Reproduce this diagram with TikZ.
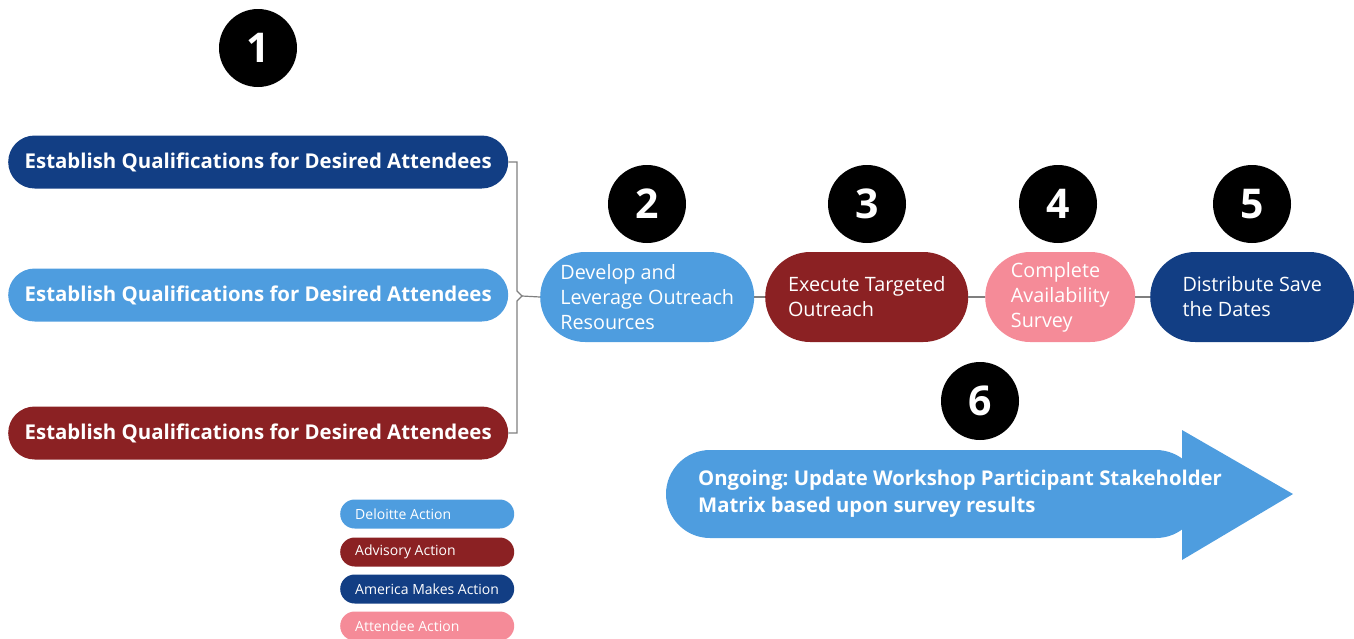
\documentclass[tikz,border=0pt]{standalone}
\usepackage{fontspec}
\setmainfont{Open Sans}
\frenchspacing
\definecolor{lblue}{HTML}{4E9DDF}
\definecolor{dblue}{HTML}{123E84}
\definecolor{dred}{HTML}{8B2123}
\definecolor{pink}{HTML}{F58B98}
\definecolor{linegray}{HTML}{7F7F7F}
\begin{document}
\begin{tikzpicture}[x=1pt,y=-1pt,
  pill/.style={rounded corners=26.5pt, minimum height=53pt, minimum width=500pt,
    inner xsep=0pt, anchor=west, text=white,
    font=\bfseries\fontsize{20.4}{24}\selectfont},
  stepbox/.style={rounded corners=45pt, minimum height=90pt, inner xsep=0pt,
    align=left, anchor=west, text=white, font=\fontsize{19.8}{25}\selectfont},
  numc/.style={circle, fill=black, minimum size=78pt, inner sep=0pt, text=white,
    font=\bfseries\fontsize{41}{41}\selectfont},
  legendbox/.style={rounded corners=14.5pt, minimum height=29pt, minimum width=174pt,
    inner xsep=15pt, anchor=west, text=white, font=\fontsize{14}{16}\selectfont},
  link/.style={draw=linegray, line width=1.2pt}
]
\useasboundingbox (0,0) rectangle (1354,638);

% step numbers
\node[numc] (n1) at (258,48) {1};
\node[numc] (n2) at (647,204) {2};
\node[numc] (n3) at (867,204) {3};
\node[numc] (n4) at (1058,204) {4};
\node[numc] (n5) at (1252,204) {5};
\node[numc] (n6) at (980,401) {6};

% qualification pills
\node[pill, fill=dblue] (p1) at (8,162) {Establish Qualifications for Desired Attendees};
\node[pill, fill=lblue] (p2) at (8,295) {Establish Qualifications for Desired Attendees};
\node[pill, fill=dred]  (p3) at (8,433) {Establish Qualifications for Desired Attendees};

% process steps
\node[stepbox, fill=lblue, minimum width=214pt] (s2) at (540,297) {Develop and\\Leverage Outreach\\Resources};
\node[stepbox, fill=dred,  minimum width=203pt] (s3) at (765,297) {Execute Targeted\\Outreach};
\node[stepbox, fill=pink,  minimum width=150pt] (s4) at (985,297) {Complete\\Availability\\Survey};
\node[stepbox, fill=dblue, minimum width=204pt] (s5) at (1150,297) {Distribute Save\\the Dates};

% bracket joining the three pills
\coordinate (bt) at (522,296);
\draw[link] (p1.east) -- (517,162) -- (517,291) -- (bt) -- (517,301) -- (517,433) -- (p3.east);
\draw[link] (bt) -- (s2.west);
\draw[link] (s2.east) -- (s3.west);
\draw[link] (s3.east) -- (s4.west);
\draw[link] (s4.east) -- (s5.west);

% ongoing arrow
\fill[lblue, rounded corners=44pt] (666,450) rectangle (1200,538);
\fill[lblue] (1182,450) -- (1182,430) -- (1293,494) -- (1182,560) -- (1182,538) -- cycle;
\node[anchor=west, align=left, text=white, inner sep=0pt,
  font=\bfseries\fontsize{20.3}{27}\selectfont] (ongoing) at (698,494)
  {Ongoing: Update Workshop Participant Stakeholder\\Matrix based upon survey results};

% legend
\node[legendbox, fill=lblue] (l1) at (340,514) {\makebox[144pt][l]{Deloitte Action}};
\node[legendbox, fill=dred]  (l2) at (340,552) {\makebox[144pt][l]{Advisory Action}};
\node[legendbox, fill=dblue] (l3) at (340,589) {\makebox[144pt][l]{America Makes Action}};
\node[legendbox, fill=pink]  (l4) at (340,626) {\makebox[144pt][l]{Attendee Action}};
\end{tikzpicture}
\end{document}
